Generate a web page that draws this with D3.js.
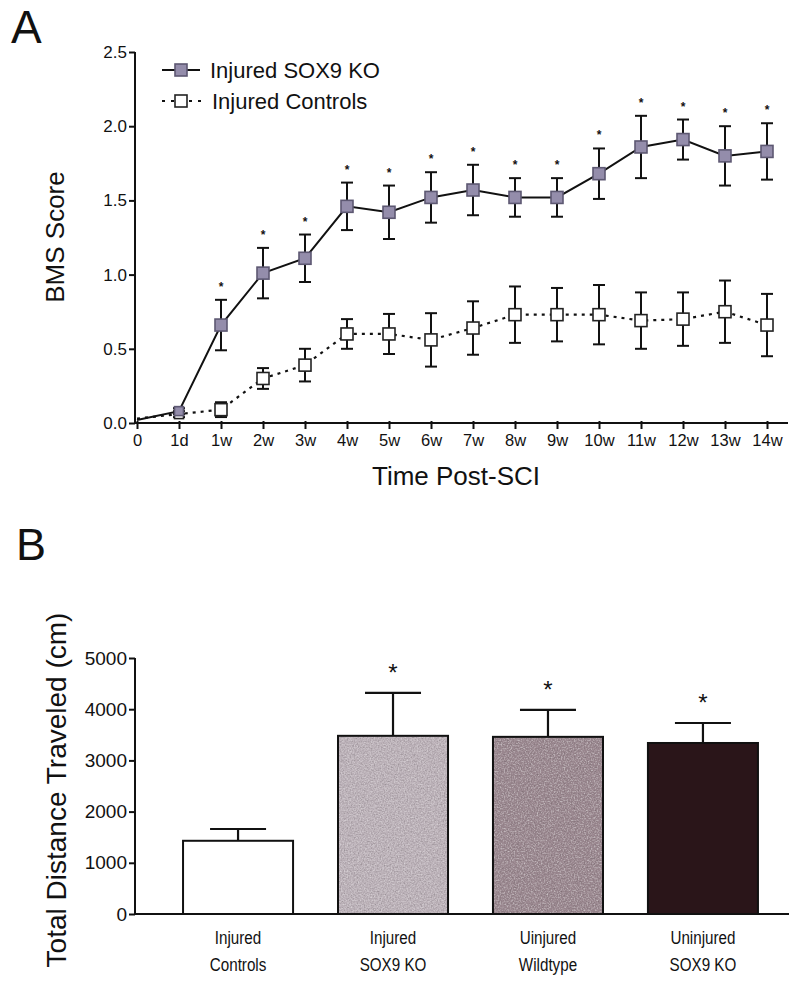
<!DOCTYPE html>
<html><head><meta charset="utf-8">
<script src="https://cdn.jsdelivr.net/npm/d3@7"></script>
<style>
html,body{margin:0;padding:0;background:#fff;}
svg text{font-family:"Liberation Sans",Arial,sans-serif;fill:#111;}
</style></head>
<body><svg id="c" width="800" height="983"></svg>
<script>
// ---------- Panel A data ----------
const xLabels = ["0","1d","1w","2w","3w","4w","5w","6w","7w","8w","9w","10w","11w","12w","13w","14w"];
const koMean  = [0.02,0.08,0.66,1.01,1.11,1.46,1.42,1.52,1.57,1.52,1.52,1.68,1.86,1.91,1.80,1.83];
const koErr   = [0,0.02,0.17,0.17,0.16,0.16,0.18,0.17,0.17,0.13,0.13,0.17,0.21,0.135,0.20,0.19];
const ctrlMean= [0.03,0.06,0.09,0.30,0.39,0.60,0.60,0.56,0.64,0.73,0.73,0.73,0.69,0.70,0.75,0.66];
const ctrlErr = [0,0.02,0.05,0.07,0.11,0.10,0.135,0.18,0.18,0.19,0.18,0.20,0.19,0.18,0.21,0.21];
const koSig   = [false,false,true,true,true,true,true,true,true,true,true,true,true,true,true,true];
const yTicksA = [0,0.5,1.0,1.5,2.0,2.5];
const seriesNames = ["Injured SOX9 KO","Injured Controls"];

// ---------- Panel B data ----------
const barGroups = [["Injured","Controls"],["Injured","SOX9 KO"],["Uinjured","Wildtype"],["Uninjured","SOX9 KO"]];
const barMeans  = [1430,3480,3460,3340];
const barErr    = [230,840,525,390];
const barSig    = [false,true,true,true];
const barColors = ["#ffffff","#bcb2b9","#9c8991","#2a1519"];
const barGrain  = [false,true,true,false];
const yTicksB   = [0,1000,2000,3000,4000,5000];

const svg = d3.select("#c");
const defs = svg.append("defs");
const f = defs.append("filter").attr("id","grain").attr("x",0).attr("y",0).attr("width",1).attr("height",1);
f.append("feTurbulence").attr("type","fractalNoise").attr("baseFrequency",0.7).attr("numOctaves",2).attr("seed",4).attr("result","n");
f.append("feColorMatrix").attr("in","n").attr("type","saturate").attr("values",0).attr("result","g0");
const ct = f.append("feComponentTransfer").attr("in","g0").attr("result","g");
["feFuncR","feFuncG","feFuncB"].forEach(k=>ct.append(k).attr("type","linear").attr("slope",0.6).attr("intercept",0.2));
ct.append("feFuncA").attr("type","linear").attr("slope",0).attr("intercept",1);
f.append("feBlend").attr("in","SourceGraphic").attr("in2","g").attr("mode","overlay").attr("result","b");
f.append("feComposite").attr("in","b").attr("in2","SourceGraphic").attr("operator","in");

// ================= Panel A =================
const xA = d3.scalePoint().domain(xLabels).range([137,767]);
const yA = d3.scaleLinear().domain([0,2.5]).range([423,52]);

svg.append("text").attr("x",11).attr("y",43).attr("font-size",46).text("A");

const yAxisA = d3.axisLeft(yA).tickValues(yTicksA).tickSize(6).tickFormat(d3.format(".1f"));
const gyA = svg.append("g").attr("transform","translate(135,0)").call(yAxisA);
gyA.select(".domain").attr("stroke","#111").attr("stroke-width",2).attr("d","M0,52V423");
gyA.selectAll(".tick line").attr("stroke","#111").attr("stroke-width",2);
gyA.selectAll(".tick text").attr("font-size",17).attr("x",-8).attr("fill","#111");

const xAxisA = d3.axisBottom(xA).tickSize(6).tickPadding(5);
const gxA = svg.append("g").attr("transform","translate(0,423)").call(xAxisA);
gxA.select(".domain").attr("stroke","#111").attr("stroke-width",2).attr("d","M135,0H788");
gxA.selectAll(".tick line").attr("stroke","#111").attr("stroke-width",2).attr("y1",-2);
gxA.selectAll(".tick text").attr("font-size",16.5).attr("fill","#111");

svg.append("text").attr("transform","translate(64,237) rotate(-90)").attr("text-anchor","middle")
  .attr("font-size",26).text("BMS Score");
svg.append("text").attr("x",456).attr("y",485).attr("text-anchor","middle").attr("font-size",26).text("Time Post-SCI");

function drawSeries(mean, err, dashed, fill, stroke){
  const pts = xLabels.map((l,i)=>({x:xA(l), m:mean[i], e:err[i], i:i}));
  const line = d3.line().x(d=>d.x).y(d=>yA(d.m));
  svg.append("path").datum(pts).attr("d",line).attr("fill","none").attr("stroke","#111")
    .attr("stroke-width",dashed?2.2:2).attr("stroke-dasharray",dashed?"3,5":null);
  const g = svg.append("g");
  pts.forEach(d=>{
    if(d.e>0){
      g.append("line").attr("x1",d.x).attr("x2",d.x).attr("y1",yA(d.m+d.e)).attr("y2",yA(d.m-d.e)).attr("stroke","#111").attr("stroke-width",2);
      [d.m+d.e,d.m-d.e].forEach(v=>g.append("line").attr("x1",d.x-6).attr("x2",d.x+6).attr("y1",yA(v)).attr("y2",yA(v)).attr("stroke","#111").attr("stroke-width",2));
    }
    if(d.i===0) return;
    const s = d.i===1 ? 9 : 12;
    g.append("rect").attr("x",d.x-s/2).attr("y",yA(d.m)-s/2).attr("width",s).attr("height",s)
      .attr("fill",fill).attr("stroke",stroke).attr("stroke-width",1.6);
  });
  return pts;
}
drawSeries(ctrlMean, ctrlErr, true, "#ffffff", "#222");
const koPts = drawSeries(koMean, koErr, false, "#948dab", "#5d5872");
koPts.forEach((d,i)=>{ if(koSig[i]) svg.append("text").attr("x",d.x).attr("y",yA(d.m+d.e)-9)
  .attr("text-anchor","middle").attr("font-size",12).attr("font-weight","bold").text("*"); });

// legend
const lg = svg.append("g");
lg.append("line").attr("x1",162).attr("x2",200).attr("y1",70).attr("y2",70).attr("stroke","#111").attr("stroke-width",2);
lg.append("rect").attr("x",175).attr("y",64).attr("width",12).attr("height",12).attr("fill","#948dab").attr("stroke","#5d5872").attr("stroke-width",1.6);
lg.append("line").attr("x1",162).attr("x2",202).attr("y1",101).attr("y2",101).attr("stroke","#111").attr("stroke-width",2.2).attr("stroke-dasharray","3,6");
lg.append("rect").attr("x",175).attr("y",95).attr("width",12).attr("height",12).attr("fill","#fff").attr("stroke","#222").attr("stroke-width",1.6);
lg.append("text").attr("x",210).attr("y",78).attr("font-size",22).text(seriesNames[0]);
lg.append("text").attr("x",212).attr("y",109).attr("font-size",22).text(seriesNames[1]);

// ================= Panel B =================
svg.append("text").attr("x",16).attr("y",560).attr("font-size",45).text("B");

const xB = d3.scaleBand().domain(d3.range(barMeans.length)).range([135,806]).paddingInner(0.29).paddingOuter(0.31);
const yB = d3.scaleLinear().domain([0,5000]).range([914,658]);

const gyB = svg.append("g").attr("transform","translate(135,0)").call(d3.axisLeft(yB).tickValues(yTicksB).tickSize(6).tickFormat(d3.format("d")));
gyB.select(".domain").attr("stroke","#111").attr("stroke-width",2).attr("d","M0,658V914");
gyB.selectAll(".tick line").attr("stroke","#111").attr("stroke-width",2);
gyB.selectAll(".tick text").attr("font-size",19).attr("x",-8).attr("fill","#111");

barMeans.forEach((v,i)=>{
  const x0 = xB(i), w = xB.bandwidth(), cx = x0+w/2;
  const top = yB(v+barErr[i]);
  svg.append("line").attr("x1",cx).attr("x2",cx).attr("y1",top).attr("y2",yB(v)).attr("stroke","#111").attr("stroke-width",2.2);
  svg.append("line").attr("x1",cx-28).attr("x2",cx+28).attr("y1",top).attr("y2",top).attr("stroke","#111").attr("stroke-width",2.2);
  svg.append("rect").attr("x",x0).attr("y",yB(v)).attr("width",w).attr("height",yB(0)-yB(v))
    .attr("fill",barColors[i]).attr("filter",barGrain[i]?"url(#grain)":null);
  svg.append("rect").attr("x",x0).attr("y",yB(v)).attr("width",w).attr("height",yB(0)-yB(v))
    .attr("fill","none").attr("stroke","#111").attr("stroke-width",2);
  if(barSig[i]) svg.append("text").attr("x",cx).attr("y",top-12).attr("text-anchor","middle").attr("font-size",24).text("*");
  const t = svg.append("text").attr("text-anchor","middle").attr("font-size",19)
    .attr("transform",`translate(${cx},0) scale(0.8,1)`);
  barGroups[i].forEach((s,k)=>t.append("tspan").attr("x",0).attr("y",944+k*27).text(s));
});
svg.append("line").attr("x1",135).attr("x2",789).attr("y1",yB(0)).attr("y2",yB(0)).attr("stroke","#111").attr("stroke-width",2);

svg.append("text").attr("transform","translate(66,790) rotate(-90)").attr("text-anchor","middle")
  .attr("font-size",28).text("Total Distance Traveled (cm)");
</script></body></html>
